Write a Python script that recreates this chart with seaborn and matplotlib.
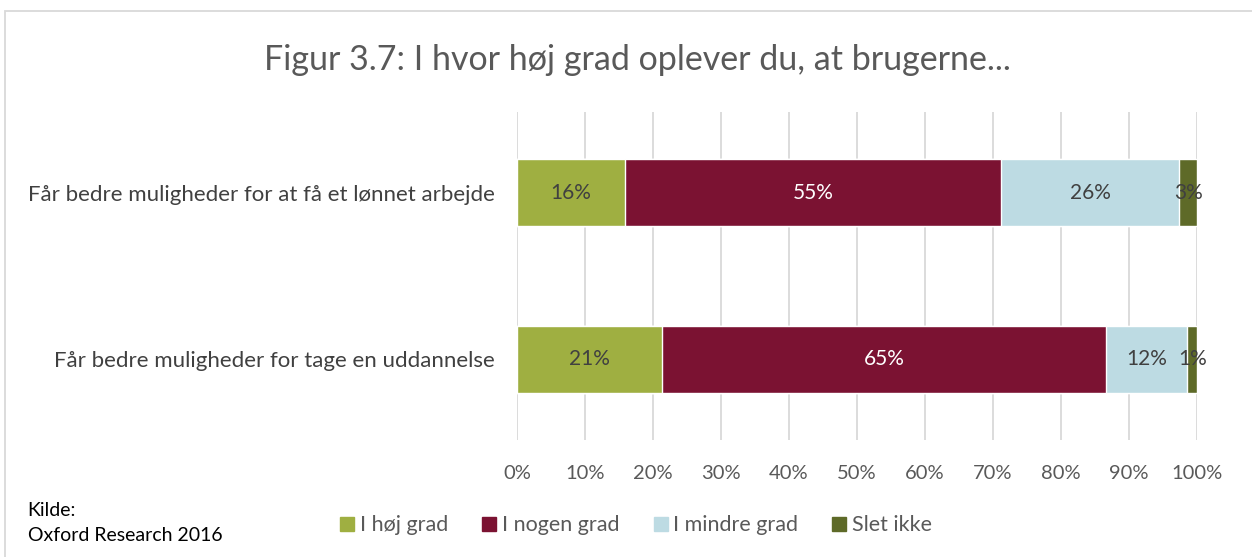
import numpy as np
import pandas as pd
import matplotlib.pyplot as plt
import seaborn as sns
from matplotlib.patches import Rectangle

# data (percent)
questions = ["Får bedre muligheder for at få et lønnet arbejde",
             "Får bedre muligheder for tage en uddannelse"]
series = ["I høj grad", "I nogen grad", "I mindre grad", "Slet ikke"]
hoej = [15.9, 21.3]
nogen = [55.3, 65.4]
mindre = [26.2, 11.9]
slet = [2.6, 1.4]
labels = [["16%", "55%", "26%", "3%"], ["21%", "65%", "12%", "1%"]]
colors = ["#9FAF41", "#7B1232", "#BDDBE3", "#5E6A28"]
text_colors = ["#404040", "white", "#404040", "#404040"]

sns.set_style("white")
plt.rcParams['font.family'] = ['Lato', 'DejaVu Sans']

df = pd.DataFrame({"question": questions, series[0]: hoej, series[1]: nogen,
                   series[2]: mindre, series[3]: slet})
cum = df[series].cumsum(axis=1)

fig = plt.figure(figsize=(12.52, 5.57), dpi=100)
ax = fig.add_axes([0.413, 0.21, 0.543, 0.589])

# stacked bars: draw cumulative totals from the back to the front
for i in reversed(range(len(series))):
    sns.barplot(x=cum[series[i]], y=df["question"], color=colors[i],
                orient="h", width=0.4, saturation=1, ax=ax, zorder=2)

# value labels in the middle of each segment
for r in range(len(questions)):
    left = 0
    for i, s in enumerate(series):
        w = df.loc[r, s]
        ax.text(left + w / 2, r, labels[r][i], ha="center", va="center",
                fontsize=15, color=text_colors[i], zorder=3)
        left += w

ax.set_xlim(0, 100)
ax.set_ylim(1.485, -0.485)
ax.set_xticks(np.arange(0, 101, 10))
ax.set_xticklabels([f"{t}%" for t in range(0, 101, 10)])
ax.xaxis.grid(True, color="#D9D9D9", linewidth=1.3, zorder=0)
ax.set_axisbelow(True)
for sp in ax.spines.values():
    sp.set_visible(False)
ax.tick_params(axis="x", labelsize=14.5, labelcolor="#595959", length=0, pad=18)
ax.tick_params(axis="y", labelsize=16, labelcolor="#404040", length=0, pad=16)
ax.set_xlabel("")
ax.set_ylabel("")

fig.text(0.509, 0.893, "Figur 3.7: I hvor høj grad oplever du, at brugerne...",
         ha="center", va="center", fontsize=24.5, color="#595959")

# legend
handles = [Rectangle((0, 0), 1, 1, color=c) for c in colors]
fig.legend(handles, series, loc="center", bbox_to_anchor=(0.508, 0.057),
           ncol=4, frameon=False, fontsize=15.5, handlelength=0.65, handleheight=0.65,
           handletextpad=0.25, columnspacing=1.6, labelcolor="#595959")

fig.text(0.022, 0.084, "Kilde:", fontsize=14, color="black", va="center")
fig.text(0.022, 0.038, "Oxford Research 2016", fontsize=14, color="black", va="center")

# outer chart frame
fig.patches.append(Rectangle((0.004, -0.01), 1.0, 0.99, transform=fig.transFigure,
                             fill=False, edgecolor="#D9D9D9", linewidth=1.3))

fig.savefig("out.png", dpi=100)
